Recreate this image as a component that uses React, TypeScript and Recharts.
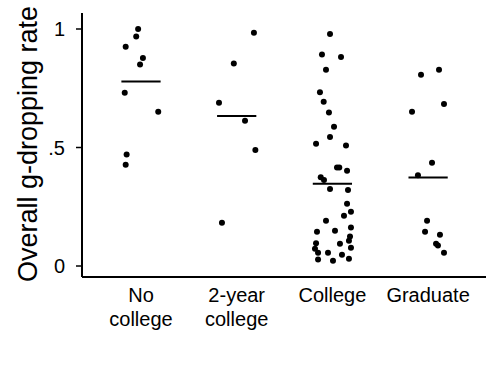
import React from "react";
import { ScatterChart, Scatter, XAxis, YAxis, ReferenceLine } from "recharts";

const categories = ["No\ncollege", "2-year\ncollege", "College", "Graduate"];
const categoryPositions = [1, 2, 3, 4];
const yTicks = [0, 0.5, 1];
const yTickLabels = ["0", ".5", "1"];
const groupMeans = [0.778, 0.633, 0.347, 0.373];

// jittered x (category index + jitter) and rate values, per group
const noCollegeX = [0.97, 0.95, 0.84, 1.02, 0.99, 0.83, 1.18, 0.85, 0.84];
const noCollegeY = [1.0, 0.968, 0.925, 0.878, 0.85, 0.731, 0.651, 0.47, 0.427];

const twoYearX = [2.18, 1.97, 1.815, 2.087, 2.195, 1.846];
const twoYearY = [0.984, 0.854, 0.689, 0.613, 0.489, 0.183];

const collegeX = [
  2.975, 2.891, 3.09, 2.933, 2.87, 2.909, 2.964, 3.017, 2.975, 2.829, 3.142, 3.048, 3.072,
  3.153, 2.878, 2.912, 2.975, 3.163, 3.153, 3.194, 3.121, 2.933, 2.839, 3.027, 3.194, 3.184,
  3.173, 2.829, 3.079, 2.818, 3.194, 2.85, 2.954, 3.1, 2.85, 3.006, 3.173,
];
const collegeY = [
  0.979, 0.892, 0.882, 0.828, 0.733, 0.693, 0.648, 0.588, 0.544, 0.516, 0.508, 0.416, 0.416,
  0.402, 0.374, 0.363, 0.325, 0.321, 0.263, 0.229, 0.212, 0.191, 0.145, 0.149, 0.162, 0.124,
  0.107, 0.096, 0.094, 0.073, 0.077, 0.056, 0.056, 0.048, 0.027, 0.022, 0.031,
];

const graduateX = [4.114, 3.926, 4.166, 3.832, 4.041, 3.894, 3.989, 3.968, 4.124, 4.083, 4.103, 4.166];
const graduateY = [0.828, 0.807, 0.684, 0.651, 0.436, 0.383, 0.191, 0.145, 0.132, 0.094, 0.086, 0.056];

const allX = [...noCollegeX, ...twoYearX, ...collegeX, ...graduateX];
const allY = [...noCollegeY, ...twoYearY, ...collegeY, ...graduateY];
const points = allX.map((x, i) => ({ x, y: allY[i] }));

const FONT = "'Liberation Sans', Arial, sans-serif";
const MEAN_HALF_WIDTH = 0.205;

const Dot = (props: any) => <circle cx={props.cx} cy={props.cy} r={3} fill="#000" />;

const XTick = (props: any) => {
  const { x, y, payload } = props;
  const idx = categoryPositions.indexOf(payload.value);
  const lines = idx >= 0 ? categories[idx].split("\n") : [];
  return (
    <text x={x} y={y} textAnchor="middle" fontFamily={FONT} fontSize={20} fill="#000">
      {lines.map((l, i) => (
        <tspan key={i} x={x} y={y + 25 + i * 24}>
          {l}
        </tspan>
      ))}
    </text>
  );
};

const YTitle = () => (
  <text
    x={37}
    y={144}
    transform="rotate(-90 37 144)"
    textAnchor="middle"
    fontFamily={FONT}
    fontSize={27}
    fill="#000"
  >
    Overall g-dropping rate
  </text>
);

export default function App() {
  return (
    <div style={{ position: "absolute", left: 0, top: 0, width: 499, height: 384, background: "#fff" }}>
      <ScatterChart width={499} height={384} margin={{ top: 13, right: 13, bottom: 47, left: 0 }}>
        <XAxis
          type="number"
          dataKey="x"
          domain={[0.3835, 4.605]}
          ticks={categoryPositions}
          tickLine={false}
          tickSize={0}
          tickMargin={0}
          height={60}
          axisLine={{ stroke: "#000", strokeWidth: 2 }}
          tick={<XTick />}
          allowDataOverflow
        />
        <YAxis
          type="number"
          dataKey="y"
          domain={[-0.0464, 1.0675]}
          ticks={yTicks}
          width={82}
          tickSize={6}
          tickMargin={11}
          tickLine={{ stroke: "#000", strokeWidth: 1.5 }}
          axisLine={{ stroke: "#000", strokeWidth: 2 }}
          tickFormatter={(v: number) => yTickLabels[yTicks.indexOf(v)] ?? String(v)}
          tick={{ fill: "#000", fontSize: 20, fontFamily: FONT }}
          allowDataOverflow
          label={<YTitle />}
        />
        {groupMeans.map((m, i) => (
          <ReferenceLine
            key={i}
            segment={[
              { x: categoryPositions[i] - MEAN_HALF_WIDTH, y: m },
              { x: categoryPositions[i] + MEAN_HALF_WIDTH, y: m },
            ]}
            stroke="#000"
            strokeWidth={2}
          />
        ))}
        <Scatter data={points} shape={<Dot />} isAnimationActive={false} />
      </ScatterChart>
    </div>
  );
}
